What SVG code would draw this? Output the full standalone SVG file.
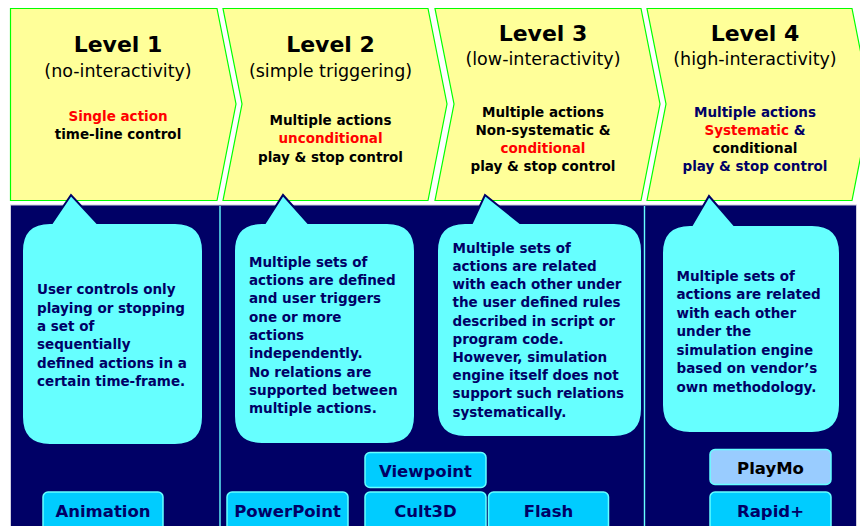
<svg xmlns="http://www.w3.org/2000/svg" width="860" height="526" viewBox="0 0 860 526">
  <defs>
    <style>
      .chev { fill: #ffff99; stroke: #00ff00; stroke-width: 1.2; }
      .lvl { font-family: "DejaVu Sans", Verdana, sans-serif; font-weight: bold; font-size: 22px; fill: #000000; text-anchor: middle; }
      .sub { font-family: "DejaVu Sans", Verdana, sans-serif; font-size: 17.5px; fill: #000000; text-anchor: middle; }
      .act { font-family: "DejaVu Sans", Verdana, sans-serif; font-weight: bold; font-size: 13.5px; fill: #000000; text-anchor: middle; }
      .red { fill: #ff0000; }
      .navy { fill: #000066; }
      .bubble { fill: #66ffff; stroke: #000066; stroke-width: 2; stroke-linejoin: miter; }
      .note { font-family: "DejaVu Sans", Verdana, sans-serif; font-weight: bold; font-size: 13.5px; fill: #000066; }
      .btn { fill: #00ccff; stroke: #66ffff; stroke-width: 1.5; }
      .btn-alt { fill: #99ccff; stroke: #66ffff; stroke-width: 1.5; }
      .btn-txt { font-family: "DejaVu Sans", Verdana, sans-serif; font-weight: bold; font-size: 16.5px; fill: #000066; text-anchor: middle; }
    </style>
  </defs>

  <rect x="0" y="0" width="860" height="526" fill="#ffffff"/>

  <!-- tool panel -->
  <g id="panel">
    <rect x="10.5" y="205" width="846" height="322" fill="#000066" stroke="#d0d0e0" stroke-width="1"/>
    <line x1="220" y1="206" x2="220" y2="526" stroke="#66ffff" stroke-width="1.4"/>
    <line x1="644.5" y1="206" x2="644.5" y2="526" stroke="#66ffff" stroke-width="1.4"/>
  </g>

  <!-- level chevrons -->
  <g id="level1">
    <polygon class="chev" points="10.5,8.5 217,8.5 236,104 217,200.5 10.5,200.5"/>
    <text class="lvl" x="118" y="52">Level 1</text>
    <text class="sub" x="118" y="77">(no-interactivity)</text>
    <text class="act red" x="118" y="120.5">Single action</text>
    <text class="act" x="118" y="139">time-line control</text>
  </g>

  <g id="level2">
    <polygon class="chev" points="223,8.5 428,8.5 447,104 428,200.5 223,200.5 242,104"/>
    <text class="lvl" x="330.5" y="52">Level 2</text>
    <text class="sub" x="330.5" y="77">(simple triggering)</text>
    <text class="act" x="330.5" y="125">Multiple actions</text>
    <text class="act red" x="330.5" y="143.3">unconditional</text>
    <text class="act" x="330.5" y="161.6">play &amp; stop control</text>
  </g>

  <g id="level3">
    <polygon class="chev" points="435,8.5 641,8.5 660,104 641,200.5 435,200.5 454,104"/>
    <text class="lvl" x="543" y="41">Level 3</text>
    <text class="sub" x="543" y="65">(low-interactivity)</text>
    <text class="act" x="543" y="116.5">Multiple actions</text>
    <text class="act" x="543" y="134.8">Non-systematic &amp;</text>
    <text class="act red" x="543" y="153.1">conditional</text>
    <text class="act" x="543" y="171.4">play &amp; stop control</text>
  </g>

  <g id="level4">
    <polygon class="chev" points="647,8.5 852,8.5 871,104 852,200.5 647,200.5 666,104"/>
    <text class="lvl" x="755" y="41">Level 4</text>
    <text class="sub" x="755" y="65">(high-interactivity)</text>
    <text class="act navy" x="755" y="116.5">Multiple actions</text>
    <text class="act" x="755" y="134.8"><tspan class="red">Systematic</tspan><tspan class="navy"> &amp;</tspan></text>
    <text class="act" x="755" y="153.1">conditional</text>
    <text class="act navy" x="755" y="171.4">play &amp; stop control</text>
  </g>

  <!-- speech-bubble notes, pointing up at their level -->
  <g id="note1">
    <path class="bubble" d="M50,223 L52,223 L71,195 L97,223 L175,223 Q203,223 203,251 L203,417 Q203,445 175,445 L50,445 Q22,445 22,417 L22,251 Q22,223 50,223 Z"/>
    <text class="note">
      <tspan x="37" y="294.3">User controls only</tspan>
      <tspan x="37" y="312.6">playing or stopping</tspan>
      <tspan x="37" y="330.9">a set of</tspan>
      <tspan x="37" y="349.2">sequentially</tspan>
      <tspan x="37" y="367.5">defined actions in a</tspan>
      <tspan x="37" y="385.8">certain time-frame.</tspan>
    </text>
  </g>

  <g id="note2">
    <path class="bubble" d="M262,223 L265,223 L283,195 L308,223 L387,223 Q415,223 415,251 L415,416 Q415,444 387,444 L262,444 Q234,444 234,416 L234,251 Q234,223 262,223 Z"/>
    <text class="note">
      <tspan x="249" y="266.7">Multiple sets of</tspan>
      <tspan x="249" y="285">actions are defined</tspan>
      <tspan x="249" y="303.3">and user triggers</tspan>
      <tspan x="249" y="321.6">one or more</tspan>
      <tspan x="249" y="339.9">actions</tspan>
      <tspan x="249" y="358.2">independently.</tspan>
      <tspan x="249" y="376.5">No relations are</tspan>
      <tspan x="249" y="394.8">supported between</tspan>
      <tspan x="249" y="413.1">multiple actions.</tspan>
    </text>
  </g>

  <g id="note3">
    <path class="bubble" d="M465,223 L472,223 L485,195 L520,223 L614,223 Q642,223 642,251 L642,409 Q642,437 614,437 L465,437 Q437,437 437,409 L437,251 Q437,223 465,223 Z"/>
    <text class="note">
      <tspan x="452.5" y="252.7">Multiple sets of</tspan>
      <tspan x="452.5" y="270.9">actions are related</tspan>
      <tspan x="452.5" y="289.1">with each other under</tspan>
      <tspan x="452.5" y="307.3">the user defined rules</tspan>
      <tspan x="452.5" y="325.5">described in script or</tspan>
      <tspan x="452.5" y="343.7">program code.</tspan>
      <tspan x="452.5" y="361.9">However, simulation</tspan>
      <tspan x="452.5" y="380.1">engine itself does not</tspan>
      <tspan x="452.5" y="398.3">support such relations</tspan>
      <tspan x="452.5" y="416.5">systematically.</tspan>
    </text>
  </g>

  <g id="note4">
    <path class="bubble" d="M690,225 L692,225 L709,196 L734,225 L812,225 Q840,225 840,253 L840,405 Q840,433 812,433 L690,433 Q662,433 662,405 L662,253 Q662,225 690,225 Z"/>
    <text class="note">
      <tspan x="676.5" y="280.7">Multiple sets of</tspan>
      <tspan x="676.5" y="299.2">actions are related</tspan>
      <tspan x="676.5" y="317.7">with each other</tspan>
      <tspan x="676.5" y="336.2">under the</tspan>
      <tspan x="676.5" y="354.7">simulation engine</tspan>
      <tspan x="676.5" y="373.2">based on  vendor’s</tspan>
      <tspan x="676.5" y="391.7">own methodology.</tspan>
    </text>
  </g>

  <!-- tool buttons -->
  <g id="btn-animation">
    <rect class="btn" x="43" y="492" width="120" height="40" rx="5"/>
    <text class="btn-txt" x="103" y="516.5">Animation</text>
  </g>
  <g id="btn-powerpoint">
    <rect class="btn" x="227" y="492" width="121" height="40" rx="5"/>
    <text class="btn-txt" x="287.5" y="516.5">PowerPoint</text>
  </g>
  <g id="btn-viewpoint">
    <rect class="btn" x="365" y="452.5" width="121" height="35" rx="5"/>
    <text class="btn-txt" x="425.5" y="476.5">Viewpoint</text>
  </g>
  <g id="btn-cult3d">
    <rect class="btn" x="365" y="492" width="121" height="40" rx="5"/>
    <text class="btn-txt" x="425.5" y="516.5">Cult3D</text>
  </g>
  <g id="btn-flash">
    <rect class="btn" x="488.5" y="492" width="120" height="40" rx="5"/>
    <text class="btn-txt" x="548.5" y="516.5">Flash</text>
  </g>
  <g id="btn-playmo">
    <rect class="btn-alt" x="710" y="449.5" width="121" height="35" rx="5"/>
    <text class="btn-txt" x="770.5" y="474" fill="#000000" style="fill:#000000">PlayMo</text>
  </g>
  <g id="btn-rapid">
    <rect class="btn" x="710" y="492" width="121" height="40" rx="5"/>
    <text class="btn-txt" x="770.5" y="516.5">Rapid+</text>
  </g>
</svg>
